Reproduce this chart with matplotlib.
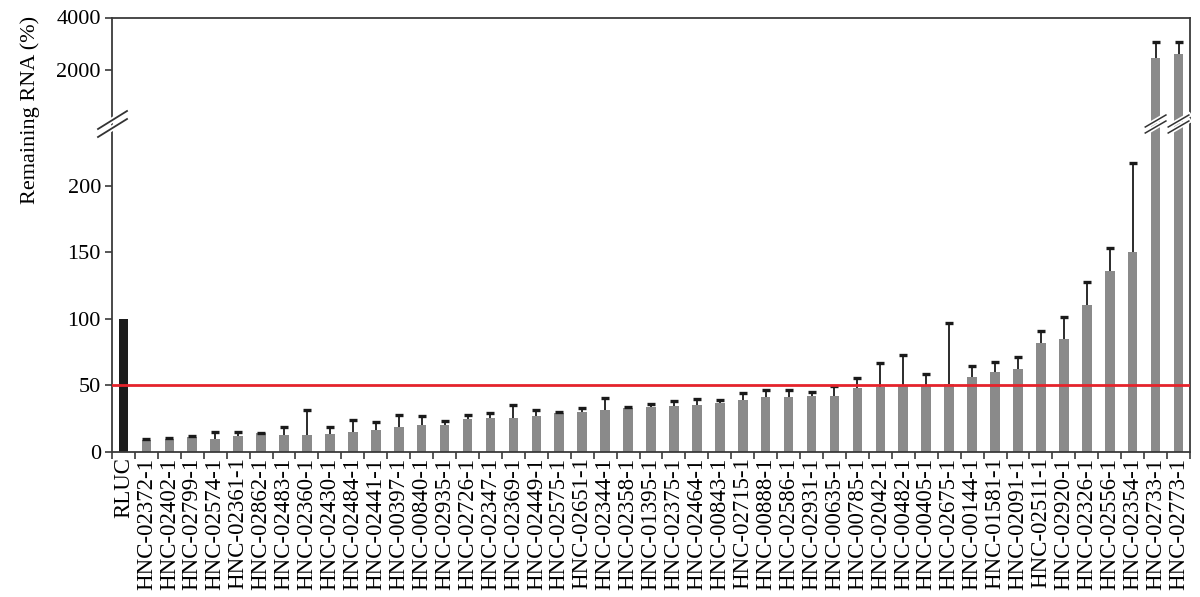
import numpy as np
import matplotlib
matplotlib.use("Agg")
import matplotlib.pyplot as plt
from matplotlib.lines import Line2D
from matplotlib.transforms import blended_transform_factory

plt.rcParams['font.family'] = 'serif'
plt.rcParams['font.serif'] = ['Liberation Serif', 'DejaVu Serif']

# data
labels = ["RLUC", "HNC-02372-1", "HNC-02402-1", "HNC-02799-1", "HNC-02574-1", "HNC-02361-1",
          "HNC-02862-1", "HNC-02483-1", "HNC-02360-1", "HNC-02430-1", "HNC-02484-1",
          "HNC-02441-1", "HNC-00397-1", "HNC-00840-1", "HNC-02935-1", "HNC-02726-1",
          "HNC-02347-1", "HNC-02369-1", "HNC-02449-1", "HNC-02575-1", "HNC-02651-1",
          "HNC-02344-1", "HNC-02358-1", "HNC-01395-1", "HNC-02375-1", "HNC-02464-1",
          "HNC-00843-1", "HNC-02715-1", "HNC-00888-1", "HNC-02586-1", "HNC-02931-1",
          "HNC-00635-1", "HNC-00785-1", "HNC-02042-1", "HNC-00482-1", "HNC-00405-1",
          "HNC-02675-1", "HNC-00144-1", "HNC-01581-1", "HNC-02091-1", "HNC-02511-1",
          "HNC-02920-1", "HNC-02326-1", "HNC-02556-1", "HNC-02354-1", "HNC-02733-1",
          "HNC-02773-1"]
remaining = [100, 9, 10, 11, 9.8, 12, 14, 12.8, 12.8, 13.6, 15.3,
             16.6, 19.1, 19.9, 20.4, 24.6, 25.9, 25.9, 27.4, 29.2, 30.4,
             31.2, 33, 33.5, 34.2, 35, 36.7, 38.7, 41, 41.3, 42.3,
             42.3, 47.8, 48.8, 50.3, 49.8, 51.3, 56.4, 60.1, 62.4, 81.5,
             85, 110.2, 135.8, 150, 2440, 2600]
upper_err = [0, 1, 0.8, 0.8, 5, 3.3, 0.5, 5.6, 18.4, 4.8, 8.9,
             5.8, 8.8, 6.8, 3.2, 3.3, 3.5, 9.1, 3.8, 1, 2.8,
             9.3, 0.5, 2.7, 4.3, 5, 2.5, 5.6, 5.8, 5.5, 2.5,
             7.5, 8, 18.2, 22.2, 8.8, 45.7, 8, 7.6, 8.8, 9.3,
             16.6, 17.1, 17.2, 67, 630, 470]
threshold = 50

low_max = 247
up_lim = (-20, 4000)

vals = np.array(remaining)
errs = np.array(upper_err)
x = np.arange(len(labels))
colors = np.array(['#1c1c1c'] + ['#8a8a8a'] * (len(labels) - 1))
has_err = errs > 0

fig = plt.figure(figsize=(12, 5.97), dpi=100)
ax_low = fig.add_axes([112 / 1200, 1 - 452 / 597, 1078 / 1200, (452 - 123) / 597])
ax_up = fig.add_axes([112 / 1200, 1 - 123 / 597, 1078 / 1200, (123 - 17.5) / 597])

spine_c = '#3a3a3a'
for ax in (ax_low, ax_up):
    ax.set_xlim(-0.5, len(labels) - 0.5)
    for s in ax.spines.values():
        s.set_color(spine_c)
        s.set_linewidth(1.3)
    ax.tick_params(axis='y', direction='out', length=5, width=1.2, color=spine_c,
                   labelsize=16, pad=3)

ax_low.spines['top'].set_visible(False)
ax_up.spines['bottom'].set_visible(False)


def draw_bars(ax, sel):
    ax.bar(x[sel], vals[sel], width=0.42, color=colors[sel], zorder=2)
    s = sel & has_err
    ax.vlines(x[s], vals[s], vals[s] + errs[s], color='#1a1a1a', lw=1.3, zorder=3)
    ax.plot(x[s], vals[s] + errs[s], ls='none', marker='_', ms=6, mew=2.4,
            color='#1a1a1a', zorder=3)


# lower part
draw_bars(ax_low, np.ones(len(x), dtype=bool))
ax_low.axhline(threshold, color='#e5232b', lw=2, zorder=4)
ax_low.set_ylim(0, low_max)
ax_low.set_yticks([0, 50, 100, 150, 200])
ax_low.set_xticks(x)
ax_low.set_xticklabels(labels, rotation=90, fontsize=16.5)
ax_low.set_xticks(np.arange(-0.5, len(labels), 1), minor=True)
ax_low.tick_params(axis='x', which='major', length=0, pad=4)
ax_low.tick_params(axis='x', which='minor', direction='out', length=5, width=1.2,
                   color=spine_c)

# upper part, only the tall bars
tall = vals > low_max
draw_bars(ax_up, tall)
ax_up.set_ylim(*up_lim)
ax_up.set_yticks([2000, 4000])
ax_up.set_xticks([])

fig.text(30 / 1200, 1 - 110 / 597, "Remaining RNA (%)", rotation=90,
         ha='center', va='center', fontsize=16)

# break marks on the left axis
yb = 1 - 124 / 597
for c, w in (('white', 4), ('#333333', 1.3)):
    for dy in (-4 / 597, 4 / 597):
        fig.add_artist(Line2D([98 / 1200, 127 / 1200], [yb + dy - 9 / 597, yb + dy + 9 / 597],
                              color=c, lw=w, transform=fig.transFigure))

# break marks on the tall bars
tr = blended_transform_factory(ax_low.transData, fig.transFigure)
for i in x[tall]:
    for c, w in (('white', 3.5), ('#333333', 1.1)):
        for dy in (-3 / 597, 3 / 597):
            fig.add_artist(Line2D([i - 0.45, i + 0.45], [yb + dy - 6 / 597, yb + dy + 6 / 597],
                                  color=c, lw=w, transform=tr))

fig.savefig("out.png", dpi=100)
